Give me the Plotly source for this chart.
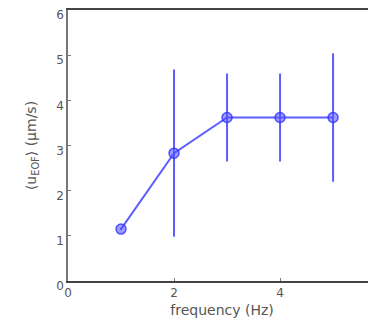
import plotly.graph_objects as go

freq = [1, 2, 3, 4, 5]
u_eof = [1.15, 2.83, 3.62, 3.62, 3.62]
err = [0.0, 1.83, 0.95, 0.95, 1.40]

x_ticks = [0, 2, 4]
y_ticks = [0, 1, 2, 3, 4, 5, 6]

blue = "rgba(40,40,255,0.75)"

fig = go.Figure()
fig.add_trace(go.Scatter(
    x=freq, y=u_eof,
    mode="lines+markers",
    line=dict(color=blue, width=2),
    marker=dict(symbol="circle", size=10, color="rgba(90,90,255,0.6)",
                line=dict(color=blue, width=1.5)),
    error_y=dict(type="data", array=err, visible=True, color=blue,
                 thickness=2, width=1),
    showlegend=False,
))

tick_font = dict(family="DejaVu Sans, sans-serif", size=12, color="#555")
title_font = dict(family="DejaVu Sans, sans-serif", size=14, color="#555")

# page has an 8px body margin; figure sized to fill the rest of the window
fig.update_layout(
    width=368, height=319,
    margin=dict(l=60, r=0, t=2, b=46),
    paper_bgcolor="white", plot_bgcolor="white",
    font=tick_font,
    xaxis=dict(range=[0, 5.81], tickvals=x_ticks, showgrid=False, zeroline=False,
               automargin=False, tickfont=tick_font,
               showline=True, linecolor="#444", linewidth=1.5, mirror=True,
               ticks="inside", ticklen=3, tickcolor="#777",
               title=dict(text="frequency (Hz)", standoff=6, font=title_font)),
    yaxis=dict(range=[0, 6], tickvals=y_ticks, showgrid=False, zeroline=False,
               automargin=False, ticklabelshift=5, tickfont=tick_font,
               showline=True, linecolor="#777", linewidth=1.5,
               ticks="inside", ticklen=3, tickcolor="#777",
               title=dict(text="⟨u<sub>EOF</sub>⟩ (μm/s)", standoff=16, font=title_font)),
)

fig.write_html("out.html")
